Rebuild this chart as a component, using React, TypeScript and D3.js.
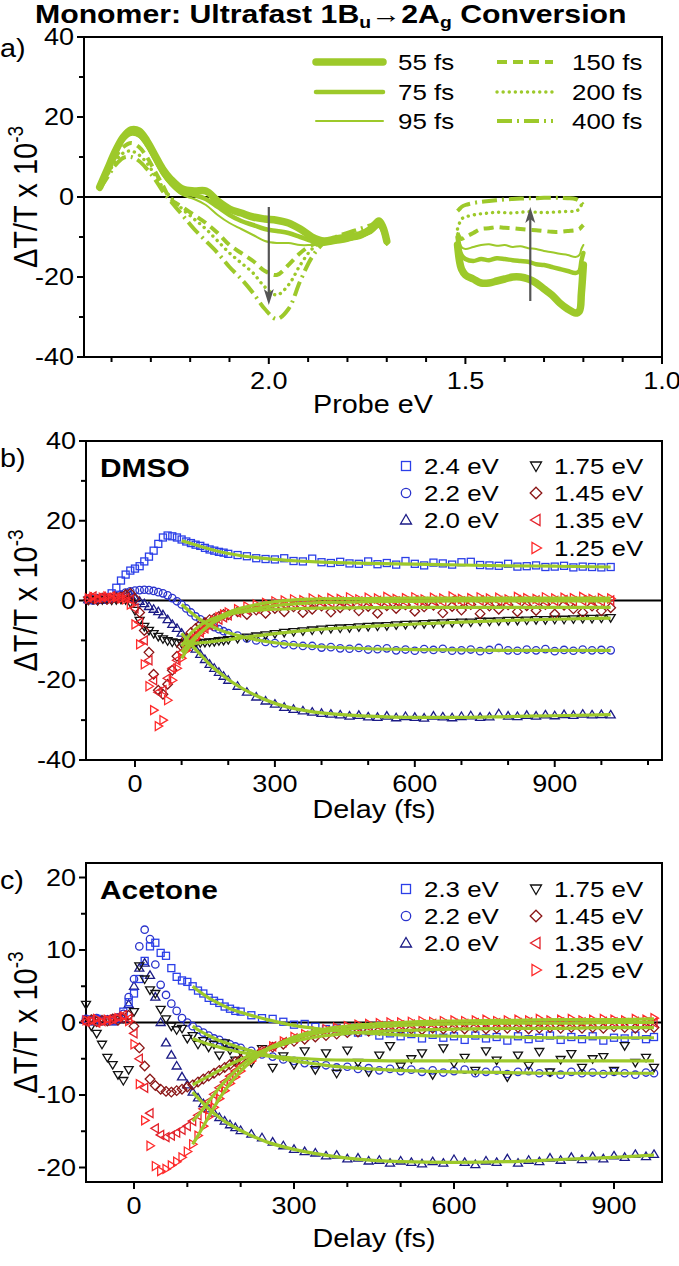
import React from 'react';
import * as d3 from 'd3';

const FONT = "'Liberation Sans', Arial, Helvetica, sans-serif";
const SX = 1.15;
const GREEN = '#9dc92a';

// ---------------- Panel a: spectra ----------------
const energyLeft = [2.43, 2.41, 2.39, 2.37, 2.35, 2.33, 2.31, 2.29, 2.27, 2.25, 2.22, 2.19, 2.16, 2.13, 2.10, 2.07, 2.04, 2.01, 1.98, 1.95, 1.92, 1.89, 1.86, 1.83, 1.80, 1.77, 1.74, 1.72, 1.71, 1.70];
const energyRight = [1.52, 1.515, 1.51, 1.50, 1.48, 1.46, 1.44, 1.42, 1.40, 1.38, 1.36, 1.34, 1.32, 1.30, 1.28, 1.26, 1.24, 1.22, 1.21, 1.205, 1.20];
const delayLabels = ['55 fs', '75 fs', '95 fs', '150 fs', '200 fs', '400 fs'];

const s55L = [2.5, 7, 11.5, 15, 16.8, 16.5, 14, 10.5, 7, 4.5, 2, 1.5, 1.5, -1, -3, -4, -5, -5.5, -5.8, -6.5, -8, -10, -11, -10.5, -10, -9.5, -8, -6, -7.5, -11];
const s75L = [2, 6.5, 11, 14.5, 16, 15.5, 13, 9.5, 6, 3.5, 1, 0.5, -0.5, -2.5, -4.5, -6, -7, -8, -8.5, -9, -10, -11, -11.5, -11, -10.5, -10, -8.5, -7, -8.5, -11.5];
const s95L = [2, 6, 10.5, 14, 15.5, 15, 12.5, 9, 5.5, 3, 0.5, -0.5, -2, -4.5, -6.5, -8, -9.5, -11, -11.5, -11.5, -12, -12, -12, -11.5, -11, -10, -9, -7.5, -9, -12];
const s150L = [2, 6, 10, 12.5, 13.5, 12.5, 10, 6.5, 3, -0.5, -2.5, -4.5, -6.5, -9, -12, -14, -16, -18.5, -19.5, -17, -14, -12, -11, -10.5, -10, -9.5, -8.5, -7, -8, -11];
const s200L = [2, 5.5, 9, 11, 11.5, 10.5, 8.5, 5.5, 2.5, 0, -3, -5.5, -8, -11, -14, -16.5, -19, -22.5, -24.5, -22, -17, -13, -11, -10.5, -10, -9, -8, -6.5, -7.5, -10.5];
const s400L = [2, 5, 8, 9.8, 10, 9, 7, 4.5, 1.5, -1, -4.5, -8, -11, -14, -17.5, -20.5, -24, -28, -30.5, -28, -21, -15, -11.5, -10, -9, -8, -7, -6, -7, -10];

const s55R = [-12, -16, -18, -19.5, -20.5, -21.5, -21.5, -21, -20.5, -20, -20, -20.5, -21.5, -23, -24.5, -26.5, -28, -29, -28.5, -24, -17];
const s75R = [-10, -13, -14.5, -15.5, -16, -15.5, -15.8, -15.3, -15.5, -15.8, -16, -16.2, -16.8, -17, -17.5, -18, -18.5, -19, -18.5, -16, -14];
const s95R = [-9, -11, -12.5, -13, -12.5, -12, -11.8, -12.2, -12, -12.5, -12.3, -12.8, -13, -13.5, -13.8, -14.2, -14.5, -15, -14.5, -13, -12];
const s150R = [-9, -10, -10.5, -10, -9, -8, -7.8, -7.5, -7.7, -7.8, -8, -8.2, -8.3, -8.5, -8.7, -8.7, -8.5, -8.3, -8, -7.5, -7];
const s200R = [-8, -6.5, -5.5, -5, -4.5, -4.2, -4, -3.8, -3.9, -4, -3.8, -3.7, -3.8, -3.9, -3.8, -3.7, -3.6, -3.5, -3, -2, -1.5];
const s400R = [-3.5, -3, -2.5, -2, -1.5, -1.2, -1, -0.8, -0.6, -0.5, -0.4, -0.3, -0.3, -0.2, -0.2, -0.2, -0.3, -0.5, -1, -1.5, -2];

const arrowEnergy = [2.0, 1.335];
const arrowFrom = [-2.5, -26];
const arrowTo = [-27, -2.5];

const aXMajor = [2.0, 1.5, 1.0];
const aXMinor = [2.4, 2.3, 2.2, 2.1, 1.9, 1.8, 1.7, 1.6, 1.4, 1.3, 1.2, 1.1];
const abYMajor = [-40, -20, 0, 20, 40];
const abYMinor = [-30, -10, 10, 30];

// ---------------- Panel b: DMSO kinetics ----------------
const timeB = [-100, -90, -80, -70, -60, -50, -40, -30, -20, -10, 0, 10, 20, 30, 40, 50, 60, 70, 80, 90, 100, 110, 120, 130, 140, 150, 160, 170, 180, 190, 200, 220, 240, 260, 280, 300, 320, 340, 360, 380, 400, 420, 440, 460, 480, 500, 520, 540, 560, 580, 600, 620, 640, 660, 680, 700, 720, 740, 760, 780, 800, 820, 840, 860, 880, 900, 920, 940, 960, 980, 1000, 1020];
const b24 = [0.2, 0.5, 0.3, 0.6, 0.8, 1.8, 3.2, 5.0, 6.5, 7.5, 8.0, 8.6, 9.8, 11.0, 12.5, 14.2, 15.8, 16.3, 16.1, 15.8, 15.3, 14.8, 14.4, 14.0, 13.7, 13.2, 12.8, 12.5, 12.2, 12.0, 11.7, 11.4, 11.1, 10.6, 10.4, 10.3, 10.6, 9.9, 9.8, 10.5, 9.6, 9.4, 9.7, 9.3, 9.2, 9.8, 9.1, 9.4, 9.0, 9.9, 9.2, 8.8, 9.5, 9.3, 9.0, 9.6, 9.7, 8.9, 8.8, 8.7, 9.2, 8.5, 8.6, 8.8, 8.4, 8.5, 8.7, 8.3, 8.5, 8.4, 8.3, 8.4];
const b22 = [0.3, 0.0, 0.4, 0.2, 0.3, 0.5, 1.0, 1.5, 2.0, 2.3, 2.5, 2.6, 2.7, 2.6, 2.4, 2.1, 1.8, 1.3, 0.6, -0.2, -1.0, -2.0, -3.0, -4.0, -4.7, -5.5, -6.2, -6.7, -7.2, -7.7, -8.2, -8.8, -9.5, -10.0, -10.4, -10.7, -11.0, -11.2, -11.4, -11.4, -11.8, -11.7, -12.0, -12.1, -11.9, -12.3, -12.2, -12.0, -12.5, -12.3, -12.6, -12.2, -12.4, -12.1, -12.6, -12.5, -12.3, -12.7, -12.4, -11.9, -12.5, -12.6, -12.3, -12.5, -12.2, -12.7, -12.4, -12.6, -12.3, -12.5, -12.4, -12.5];
const b20 = [0.2, 0.0, 0.3, 0.1, 0.2, 0.4, 0.8, 1.2, 1.5, 1.3, 0.5, -0.2, -0.8, -1.5, -2.2, -2.8, -3.6, -4.8, -6.0, -7.0, -8.2, -9.5, -11.0, -12.2, -13.5, -14.8, -16.0, -17.0, -18.0, -19.0, -20.0, -21.5, -23.0, -24.2, -25.2, -26.0, -26.8, -27.3, -27.7, -28.0, -28.3, -28.5, -28.7, -29.0, -28.8, -29.2, -29.3, -29.0, -29.4, -29.1, -29.3, -29.5, -29.0, -29.2, -29.4, -29.1, -28.9, -29.3, -29.2, -28.4, -29.0, -29.1, -28.8, -29.0, -28.7, -28.9, -28.6, -28.8, -28.5, -28.7, -28.6, -28.7];
const b175 = [0.1, 0.3, 0.0, 0.2, 0.3, 0.1, 0.2, 0.3, 0.2, -0.5, -2.5, -5.0, -6.5, -7.5, -8.3, -9.0, -9.6, -10.1, -10.4, -10.6, -10.7, -10.8, -10.8, -10.7, -10.6, -10.5, -10.4, -10.3, -10.1, -10.0, -9.8, -9.5, -9.2, -8.9, -8.6, -8.3, -8.0, -7.8, -7.6, -7.4, -7.2, -7.0, -6.9, -6.8, -6.6, -6.5, -6.4, -6.3, -6.1, -6.0, -5.9, -5.8, -5.7, -5.6, -5.5, -5.4, -5.4, -5.2, -5.2, -5.1, -5.0, -5.0, -4.9, -4.8, -4.8, -4.7, -4.7, -4.6, -4.5, -4.5, -4.4, -4.3];
const b145 = [0.2, 0.5, 0.1, 0.6, 0.3, 0.4, 0.7, 0.9, 1.5, 1.8, 0.5, -3.0, -7.5, -13.0, -18.5, -22.5, -23.5, -21.0, -17.5, -14.0, -11.5, -9.5, -8.0, -7.0, -6.0, -5.5, -4.8, -4.5, -4.0, -3.5, -3.6, -2.8, -3.5, -2.4, -3.2, -2.0, -2.8, -1.6, -3.0, -2.2, -1.4, -2.9, -1.8, -1.2, -2.6, -1.5, -3.2, -1.3, -2.0, -1.1, -2.7, -1.6, -1.2, -3.1, -1.5, -2.4, -1.0, -3.3, -1.4, -2.2, -1.1, -2.8, -1.3, -2.5, -1.0, -3.4, -1.2, -2.1, -3.0, -1.4, -2.6, -1.8];
const b135 = [0.8, 1.0, 0.6, 0.9, 0.7, 1.1, 0.8, 0.9, 0.6, 0.2, -2.0, -5.5, -10.0, -15.0, -20.0, -23.0, -22.5, -19.5, -17.0, -15.0, -13.0, -11.5, -10.2, -9.0, -8.0, -7.0, -6.2, -5.5, -4.8, -4.2, -3.7, -3.0, -2.4, -2.0, -1.6, -1.3, -1.0, -0.8, -0.6, -0.8, -0.4, -0.6, -0.3, -0.5, -0.2, -0.4, -0.1, -0.5, -0.2, -0.3, 0.0, -0.4, -0.1, -0.3, 0.1, -0.2, -0.4, 0.0, -0.3, -0.1, -0.2, 0.1, -0.3, 0.0, -0.2, -0.1, 0.1, -0.2, 0.0, -0.1, -0.2, 0.0];
const b125 = [0.5, 0.9, 0.4, 0.7, 1.0, 0.6, 0.8, 0.5, 0.3, -1.0, -6.0, -11.0, -16.0, -21.5, -27.5, -31.5, -30.0, -25.0, -20.0, -17.0, -14.5, -12.5, -11.0, -9.5, -8.2, -7.0, -6.0, -5.0, -4.2, -3.5, -3.0, -2.2, -1.5, -1.0, -0.6, -0.2, 0.0, 0.3, 0.1, 0.5, 0.2, 0.6, 0.4, 0.8, 0.3, 0.7, 0.5, 0.9, 0.4, 0.6, 0.8, 0.3, 0.7, 0.5, 1.0, 0.4, 0.6, 0.8, 0.5, 0.7, 0.3, 0.9, 0.6, 0.4, 0.8, 0.5, 0.7, 0.6, 0.9, 0.4, 0.6, 0.5];

const fitTimeB = [100, 120, 140, 160, 180, 200, 250, 300, 350, 400, 500, 600, 700, 800, 900, 1020];
const fitB24 = [15.0, 14.3, 13.6, 12.9, 12.3, 11.8, 10.9, 10.3, 9.9, 9.6, 9.3, 9.1, 8.9, 8.7, 8.6, 8.4];
const fitB22 = [-1.0, -3.0, -4.8, -6.2, -7.3, -8.1, -9.6, -10.6, -11.2, -11.6, -12.1, -12.3, -12.4, -12.5, -12.5, -12.5];
const fitB20 = [-8.2, -11.0, -13.5, -16.0, -18.0, -19.8, -23.3, -25.8, -27.3, -28.2, -29.0, -29.3, -29.3, -29.1, -28.9, -28.6];
const fitB175 = [-10.8, -10.8, -10.6, -10.4, -10.1, -9.8, -9.0, -8.3, -7.7, -7.2, -6.5, -5.9, -5.4, -5.0, -4.7, -4.4];
const fitB145 = [-11.5, -8.2, -6.2, -4.9, -4.0, -3.4, -2.6, -2.2, -2.0, -1.9, -1.8, -1.7, -1.7, -1.7, -1.7, -1.7];
const fitB135 = [-13.0, -10.2, -8.0, -6.2, -4.8, -3.7, -2.2, -1.3, -0.8, -0.5, -0.3, -0.2, -0.1, -0.1, -0.1, -0.1];
const fitB125 = [-14.5, -11.0, -8.2, -6.0, -4.2, -3.0, -1.3, -0.3, 0.2, 0.4, 0.5, 0.6, 0.6, 0.6, 0.6, 0.6];
const labelsB = ['2.4 eV', '2.2 eV', '2.0 eV', '1.75 eV', '1.45 eV', '1.35 eV', '1.25 eV'];

// ---------------- Panel c: Acetone kinetics ----------------
const timeC = [-90, -80, -70, -60, -50, -40, -30, -20, -10, 0, 10, 20, 30, 40, 50, 60, 70, 80, 90, 100, 110, 120, 130, 140, 150, 160, 170, 180, 190, 200, 220, 240, 260, 280, 300, 320, 340, 360, 380, 400, 420, 440, 460, 480, 500, 520, 540, 560, 580, 600, 620, 640, 660, 680, 700, 720, 740, 760, 780, 800, 820, 840, 860, 880, 900, 920, 940, 960, 975];
const c23 = [0.4, 0.2, 0.5, 0.3, 0.4, 0.2, 0.6, 1.5, 2.8, 4.0, 6.0, 8.5, 10.5, 11.0, 9.6, 9.2, 7.5, 6.3, 5.8, 5.6, 5.0, 4.4, 4.0, 3.4, 3.0, 2.7, 2.2, 1.9, 1.6, 1.5, 1.0, 0.6, 0.5, 0.1, -0.3, -0.2, -0.6, -0.9, -0.8, -1.2, -1.4, -1.2, -1.8, -1.5, -1.9, -1.6, -2.2, -1.7, -2.1, -1.9, -2.4, -1.8, -2.2, -2.0, -2.5, -1.9, -2.3, -2.1, -1.8, -2.4, -2.0, -2.3, -1.9, -2.5, -2.1, -2.2, -1.8, -2.3, -2.0];
const c22 = [0.5, 0.3, 0.6, 0.2, 0.4, 0.5, 0.7, 1.2, 3.5, 6.0, 10.5, 12.8, 11.5, 8.0, 5.2, 3.8, 2.6, 1.6, 0.6, 0.0, -0.5, -1.0, -1.4, -1.8, -2.2, -2.4, -2.8, -3.0, -3.3, -3.5, -3.9, -4.4, -4.7, -5.1, -5.3, -5.6, -5.8, -5.9, -6.2, -6.1, -6.4, -6.3, -6.6, -6.4, -6.7, -6.5, -6.8, -6.6, -6.9, -6.7, -6.5, -7.0, -6.8, -6.6, -7.1, -6.8, -6.7, -7.0, -6.9, -7.2, -6.8, -7.0, -6.9, -7.1, -6.8, -7.0, -7.2, -6.9, -7.0];
const c20 = [0.3, 0.1, 0.4, 0.2, 0.3, 0.1, 0.4, 0.5, 2.5, 5.0, 7.5, 8.2, 6.5, 3.5, 0.0, -2.8, -4.5, -6.0, -7.5, -8.6, -9.6, -10.4, -11.2, -11.9, -12.5, -13.1, -13.6, -14.1, -14.5, -14.9, -15.4, -15.9, -16.5, -17.0, -17.5, -17.8, -18.0, -18.4, -18.3, -18.8, -18.7, -19.1, -19.0, -19.4, -19.1, -19.3, -19.5, -19.2, -19.4, -18.9, -19.3, -19.6, -19.1, -19.3, -18.8, -19.4, -19.0, -19.2, -18.7, -19.0, -18.6, -18.9, -18.5, -18.8, -18.4, -18.6, -18.2, -18.5, -18.2];
const c175 = [2.5, -0.5, -1.5, -3.0, -4.8, -5.8, -7.2, -8.0, -6.5, 1.5, 7.8, 6.0, 4.5, 4.0, 1.8, 0.5, -0.5, -1.0, -0.8, -2.2, -1.8, -3.0, -2.5, -3.4, -3.0, -4.5, -2.8, -3.8, -5.2, -4.0, -5.5, -3.6, -6.2, -4.6, -5.8, -3.9, -6.5, -4.2, -7.0, -3.8, -5.5, -6.8, -4.5, -3.2, -6.0, -5.0, -4.2, -7.2, -3.5, -5.6, -4.8, -6.6, -3.9, -5.2, -7.5, -4.5, -5.9, -4.0, -6.8, -5.1, -4.3, -6.2, -5.0, -4.7, -6.6, -3.2, -5.5, -4.8, -6.2];
const c145 = [0.2, 0.4, 0.1, 0.3, 0.2, 0.5, 0.3, 0.6, 1.0, -0.5, -3.5, -6.0, -7.8, -8.7, -9.2, -9.5, -9.6, -9.4, -9.2, -8.9, -8.6, -8.2, -7.8, -7.4, -7.0, -6.6, -6.2, -5.8, -5.4, -5.1, -4.5, -3.9, -3.4, -3.0, -2.6, -2.3, -2.0, -1.8, -1.6, -1.4, -1.3, -1.2, -1.1, -1.0, -1.0, -0.9, -1.0, -0.8, -0.9, -0.8, -0.9, -0.7, -0.9, -0.8, -0.8, -0.7, -0.9, -0.8, -0.7, -0.8, -0.7, -0.8, -0.7, -0.8, -0.6, -0.7, -0.8, -0.7, -0.7];
const c135 = [0.1, 0.3, 0.0, 0.2, 0.4, 0.5, 0.8, 1.0, 0.5, -1.5, -5.0, -9.0, -12.5, -14.6, -15.5, -15.8, -15.6, -15.2, -14.8, -14.3, -13.6, -12.8, -11.9, -10.9, -9.9, -9.0, -8.2, -7.4, -6.7, -6.0, -4.9, -4.0, -3.3, -2.7, -2.2, -1.8, -1.5, -1.2, -1.0, -0.8, -0.7, -0.6, -0.5, -0.4, -0.4, -0.3, -0.3, -0.2, -0.3, -0.2, -0.2, -0.1, -0.2, -0.1, -0.2, -0.1, 0.0, -0.1, -0.2, 0.0, -0.1, 0.0, -0.1, 0.1, 0.0, -0.1, 0.1, 0.0, 0.0];
const c125 = [0.3, 0.2, 0.5, 0.1, 0.4, 0.3, 0.6, 0.8, 0.2, -3.0, -8.5, -13.5, -17.0, -19.8, -20.5, -20.2, -19.7, -19.2, -18.6, -17.8, -16.8, -15.6, -14.3, -13.0, -11.7, -10.5, -9.4, -8.4, -7.5, -6.7, -5.3, -4.2, -3.3, -2.6, -2.0, -1.6, -1.2, -0.9, -0.7, -0.5, -0.3, -0.2, -0.1, 0.0, 0.0, 0.1, 0.2, 0.1, 0.2, 0.3, 0.2, 0.3, 0.4, 0.2, 0.3, 0.4, 0.3, 0.5, 0.3, 0.4, 0.5, 0.3, 0.4, 0.5, 0.4, 0.3, 0.5, 0.4, 0.6];

const fitTimeC = [110, 120, 140, 160, 180, 200, 250, 300, 350, 400, 500, 600, 700, 800, 900, 975];
const fitC23 = [5.0, 4.4, 3.4, 2.6, 1.9, 1.4, 0.4, -0.4, -0.9, -1.3, -1.7, -1.9, -2.0, -2.1, -2.1, -2.1];
const fitC22 = [-0.5, -1.0, -1.8, -2.5, -3.0, -3.5, -4.5, -5.3, -5.8, -6.2, -6.6, -6.8, -6.9, -7.0, -7.0, -7.0];
const fitC20 = [-9.6, -10.4, -11.9, -13.1, -14.1, -14.9, -16.5, -17.5, -18.2, -18.7, -19.2, -19.3, -19.2, -18.9, -18.6, -18.3];
const fitC175 = [-2.2, -2.5, -3.0, -3.4, -3.8, -4.1, -4.6, -4.9, -5.1, -5.2, -5.3, -5.3, -5.3, -5.3, -5.3, -5.3];
const fitC145 = [-8.6, -8.2, -7.4, -6.6, -5.8, -5.1, -3.7, -2.6, -1.9, -1.5, -1.1, -0.9, -0.8, -0.8, -0.7, -0.7];
const fitC135 = [-13.6, -12.8, -10.9, -9.0, -7.4, -6.0, -3.6, -2.2, -1.4, -0.9, -0.4, -0.2, -0.1, -0.1, 0.0, 0.0];
const fitC125 = [-16.8, -15.6, -13.0, -10.5, -8.4, -6.7, -3.8, -2.0, -1.0, -0.5, 0.0, 0.2, 0.3, 0.4, 0.4, 0.5];
const labelsC = ['2.3 eV', '2.2 eV', '2.0 eV', '1.75 eV', '1.45 eV', '1.35 eV', '1.25 eV'];

const tXMajor = [0, 300, 600, 900];
const bXMinor = [100, 200, 400, 500, 700, 800, 1000, 1100];
const cXMinor = [100, 200, 400, 500, 700, 800];
const cYMajor = [-20, -10, 0, 10, 20];
const cYMinor = [-15, -5, 5, 15];

// ---------------- styles ----------------
const SHAPES = ['square', 'circle', 'up', 'down', 'diamond', 'left', 'right'];
const COLORS = ['#2b3fe8', '#2a33cc', '#1b1b86', '#111111', '#8a1515', '#e3222a', '#ff2b2b'];
const LINE_STYLES = [
  { w: 7.5, dash: null, cap: 'round' },
  { w: 4.5, dash: null, cap: 'round' },
  { w: 2, dash: null, cap: 'round' },
  { w: 4, dash: '10 6', cap: 'butt' },
  { w: 3.4, dash: '0.1 6', cap: 'round' },
  { w: 4, dash: '15 5 2 5', cap: 'butt' },
];

type TP = { x: number; y: number; size: number; anchor?: string; weight?: string; children: any; fill?: string; sx?: number };
const T = ({ x, y, size, anchor = 'start', weight = 'normal', children, fill = '#000', sx = SX }: TP) => (
  <text transform={`translate(${x},${y}) scale(${sx},1)`} fontSize={size} textAnchor={anchor as any} fontWeight={weight} fontFamily={FONT} fill={fill}>{children}</text>
);

const YTitle = ({ x, y }: { x: number; y: number }) => (
  <text transform={`translate(${x},${y}) scale(${SX},1) rotate(-90)`} fontSize={29} textAnchor="middle" fontFamily={FONT}>
    ΔT/T x 10<tspan dy={-12} fontSize={19}>-3</tspan>
  </text>
);

const Marker = ({ shape, x, y, color, s = 4 }: { shape: string; x: number; y: number; color: string; s?: number }) => {
  const common = { fill: 'none', stroke: color, strokeWidth: 1.3 };
  if (shape === 'square') return <rect x={x - s + 0.5} y={y - s + 0.5} width={2 * s - 1} height={2 * s - 1} {...common} />;
  if (shape === 'circle') return <circle cx={x} cy={y} r={s - 0.3} {...common} />;
  let p = '';
  if (shape === 'up') p = `M${x},${y - s - 0.5}L${x + s + 0.5},${y + s - 1}L${x - s - 0.5},${y + s - 1}Z`;
  if (shape === 'down') p = `M${x},${y + s + 0.5}L${x + s + 0.5},${y - s + 1}L${x - s - 0.5},${y - s + 1}Z`;
  if (shape === 'diamond') p = `M${x},${y - s - 0.8}L${x + s + 0.8},${y}L${x},${y + s + 0.8}L${x - s - 0.8},${y}Z`;
  if (shape === 'left') p = `M${x - s - 0.5},${y}L${x + s - 1},${y - s - 0.5}L${x + s - 1},${y + s + 0.5}Z`;
  if (shape === 'right') p = `M${x + s + 0.5},${y}L${x - s + 1},${y - s - 0.5}L${x - s + 1},${y + s + 0.5}Z`;
  return <path d={p} {...common} />;
};

type AxProps = {
  x: d3.ScaleLinear<number, number>; y: d3.ScaleLinear<number, number>;
  xMajor: number[]; xMinor: number[]; yMajor: number[]; yMinor: number[]; xFmt: (v: number) => string;
};
const Axes = ({ x, y, xMajor, xMinor, yMajor, yMinor, xFmt }: AxProps) => {
  const [x0, x1] = x.range();
  const [y1, y0] = y.range();
  return (
    <g>
      <rect x={x0} y={y0} width={x1 - x0} height={y1 - y0} fill="none" stroke="#000" strokeWidth={2} />
      <line x1={x0} x2={x1} y1={y(0)} y2={y(0)} stroke="#000" strokeWidth={2} />
      {yMajor.map(v => (
        <g key={'ym' + v}>
          <line x1={x0 - 7} x2={x0} y1={y(v)} y2={y(v)} stroke="#000" strokeWidth={2} />
          <T x={x0 - 10} y={y(v) + 8} size={23.5} anchor="end">{String(v)}</T>
        </g>
      ))}
      {yMinor.map(v => <line key={'yn' + v} x1={x0 - 5} x2={x0} y1={y(v)} y2={y(v)} stroke="#000" strokeWidth={2} />)}
      {xMajor.map(v => (
        <g key={'xm' + v}>
          <line x1={x(v)} x2={x(v)} y1={y1} y2={y1 + 7} stroke="#000" strokeWidth={2} />
          <T x={x(v)} y={y1 + 32} size={23.5} anchor="middle">{xFmt(v)}</T>
        </g>
      ))}
      {xMinor.map(v => <line key={'xn' + v} x1={x(v)} x2={x(v)} y1={y1} y2={y1 + 5} stroke="#000" strokeWidth={2} />)}
    </g>
  );
};

const KineticPanel = (props: {
  x: d3.ScaleLinear<number, number>; y: d3.ScaleLinear<number, number>;
  time: number[]; series: number[][]; fitTime: number[]; fits: number[][]; labels: string[];
  xMinor: number[]; yMajor: number[]; yMinor: number[]; solvent: string; tag: string;
  legendY: number[]; titleY: number;
}) => {
  const { x, y, time, series, fitTime, fits, labels } = props;
  const [x0, x1] = x.range();
  const [yb, yt] = y.range();
  const line = d3.line<number>().x((_, i) => x(fitTime[i])).y(d => y(d)).curve(d3.curveMonotoneX);
  const drawOrder = [2, 1, 0, 3, 4, 5, 6];
  const legendCol = [0, 0, 0, 1, 1, 1, 1];
  const legendRow = [0, 1, 2, 0, 1, 2, 3];
  const colMarkerX = [406, 536];
  const colTextX = [424, 554];
  return (
    <g>
      <Axes x={x} y={y} xMajor={tXMajor} xMinor={props.xMinor} yMajor={props.yMajor} yMinor={props.yMinor} xFmt={v => String(v)} />
      {drawOrder.map(si => (
        <g key={'s' + si}>
          {series[si].map((v, i) => (
            <Marker key={i} shape={SHAPES[si]} x={x(time[i])} y={y(v)} color={COLORS[si]} />
          ))}
        </g>
      ))}
      {fits.map((f, i) => <path key={'f' + i} d={line(f) || ''} fill="none" stroke={GREEN} strokeWidth={3.2} />)}
      {labels.map((l, i) => (
        <g key={'l' + i}>
          <Marker shape={SHAPES[i]} x={colMarkerX[legendCol[i]]} y={props.legendY[legendRow[i]]} color={COLORS[i]} s={5} />
          <T x={colTextX[legendCol[i]]} y={props.legendY[legendRow[i]] + 8} size={22.5}>{l}</T>
        </g>
      ))}
      <T x={x0 + 14} y={yt + 36} size={26} weight="bold">{props.solvent}</T>
      <T x={0} y={yt + 26} size={25}>{props.tag}</T>
      <YTitle x={37} y={(yt + yb) / 2} />
      <T x={(x0 + x1) / 2} y={props.titleY} size={25} anchor="middle">Delay (fs)</T>
    </g>
  );
};

export default function App() {
  // panel a
  const xA = d3.scaleLinear().domain([2.47, 1.0]).range([84, 662]);
  const yA = d3.scaleLinear().domain([-40, 40]).range([357, 37]);
  const lineA = (E: number[]) => d3.line<number>().x((_, i) => xA(E[i])).y(d => yA(d)).curve(d3.curveCatmullRom);
  const leftSets = [s55L, s75L, s95L, s150L, s200L, s400L];
  const rightSets = [s55R, s75R, s95R, s150R, s200R, s400R];
  const order = [5, 4, 3, 2, 1, 0];
  const legARowY = [62, 92, 121];
  const legACol = [[316, 383], [497, 553]];
  const legATextX = [398, 572];

  // panel b
  const xB = d3.scaleLinear().domain([-105, 1130]).range([86, 662]);
  const yB = d3.scaleLinear().domain([-40, 40]).range([760, 441]);
  // panel c
  const xC = d3.scaleLinear().domain([-90, 990]).range([86, 662]);
  const yC = d3.scaleLinear().domain([-22, 22]).range([1182, 863]);

  return (
    <svg width={679} height={1266} style={{ position: 'absolute', left: 0, top: 0, background: '#fff' }} xmlns="http://www.w3.org/2000/svg">
      <rect width={679} height={1266} fill="#fff" />
      {/* title */}
      <text transform={`translate(35,23) scale(1.21,1)`} fontSize={25} fontWeight="bold" fontFamily={FONT}>
        Monomer: Ultrafast 1B<tspan dy={5} fontSize={16}>u</tspan><tspan dy={-5}>→2A</tspan><tspan dy={5} fontSize={16}>g</tspan><tspan dy={-5}> Conversion</tspan>
      </text>

      {/* panel a */}
      <Axes x={xA} y={yA} xMajor={aXMajor} xMinor={aXMinor} yMajor={abYMajor} yMinor={abYMinor} xFmt={d3.format('.1f')} />
      {order.map(i => (
        <g key={'a' + i} fill="none" stroke={GREEN} strokeWidth={LINE_STYLES[i].w} strokeDasharray={LINE_STYLES[i].dash || undefined} strokeLinecap={LINE_STYLES[i].cap as any} strokeLinejoin="round">
          <path d={lineA(energyLeft)(leftSets[i]) || ''} />
          <path d={lineA(energyRight)(rightSets[i]) || ''} />
        </g>
      ))}
      {arrowEnergy.map((e, i) => {
        const ax = xA(e), ya = yA(arrowFrom[i]), yb = yA(arrowTo[i]);
        const dir = yb > ya ? 1 : -1;
        return (
          <g key={'arr' + i}>
            <line x1={ax} x2={ax} y1={ya} y2={yb - dir * 10} stroke="#555" strokeWidth={2.2} />
            <path d={`M${ax},${yb}L${ax - 5},${yb - dir * 16}L${ax},${yb - dir * 12}L${ax + 5},${yb - dir * 16}Z`} fill="#555" />
          </g>
        );
      })}
      {delayLabels.map((l, i) => {
        const col = i < 3 ? 0 : 1;
        const row = i % 3;
        const st = LINE_STYLES[i];
        return (
          <g key={'la' + i}>
            <line x1={legACol[col][0]} x2={legACol[col][1]} y1={legARowY[row]} y2={legARowY[row]} stroke={GREEN} strokeWidth={st.w} strokeDasharray={st.dash || undefined} strokeLinecap={st.cap as any} />
            <T x={legATextX[col]} y={legARowY[row] + 8} size={22.5}>{l}</T>
          </g>
        );
      })}
      <T x={0} y={57} size={25}>a)</T>
      <YTitle x={37} y={197} />
      <T x={373} y={413} size={25} anchor="middle">Probe eV</T>

      <KineticPanel x={xB} y={yB} time={timeB} series={[b24, b22, b20, b175, b145, b135, b125]} fitTime={fitTimeB}
        fits={[fitB24, fitB22, fitB20, fitB175, fitB145, fitB135, fitB125]} labels={labelsB}
        xMinor={bXMinor} yMajor={abYMajor} yMinor={abYMinor} solvent="DMSO" tag="b)" legendY={[466, 493, 520, 548]} titleY={818} />
      <KineticPanel x={xC} y={yC} time={timeC} series={[c23, c22, c20, c175, c145, c135, c125]} fitTime={fitTimeC}
        fits={[fitC23, fitC22, fitC20, fitC175, fitC145, fitC135, fitC125]} labels={labelsC}
        xMinor={cXMinor} yMajor={cYMajor} yMinor={cYMinor} solvent="Acetone" tag="c)" legendY={[889, 916, 943, 970]} titleY={1247} />
    </svg>
  );
}
